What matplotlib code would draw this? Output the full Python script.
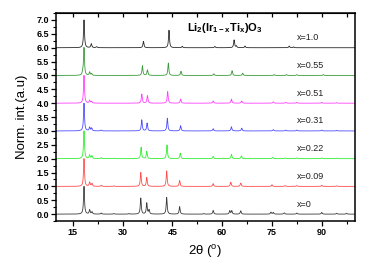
import numpy as np
import matplotlib.pyplot as plt
from matplotlib.ticker import MultipleLocator

plt.rcParams['font.family'] = ['Liberation Sans', 'DejaVu Sans']
plt.rcParams['mathtext.default'] = 'regular'

# sample labels, offsets and colours (bottom to top)
labels = ['x=0', 'x=0.09', 'x=0.22', 'x=0.31', 'x=0.51', 'x=0.55', 'x=1.0']
offsets = [0, 1, 2, 3, 4, 5, 6]
colors = ['#3a3a3a', '#ff4d4d', '#33ee33', '#4d4dff', '#ff40ff', '#3a9a3a', '#2a2a2a']

# peak positions (2theta) and heights
pos_x0 = [18.4, 20.1, 20.8, 23.6, 27.4, 32.0, 35.5, 37.3, 38.0, 43.3, 47.2, 54.5, 57.3, 62.3, 62.9, 65.6, 74.7, 75.4, 78.7, 82.5, 90.0, 94.5, 97.5]
h_x0 = [1.0, 0.15, 0.08, 0.04, 0.02, 0.02, 0.58, 0.4, 0.15, 0.6, 0.27, 0.02, 0.13, 0.12, 0.12, 0.12, 0.07, 0.06, 0.05, 0.04, 0.06, 0.03, 0.03]
pos_x009 = [18.4, 20.1, 20.8, 23.6, 27.4, 35.5, 37.3, 43.3, 47.2, 57.3, 62.6, 65.6, 75.0, 79.0, 82.5, 90.0, 94.5]
h_x009 = [1.0, 0.15, 0.1, 0.04, 0.02, 0.5, 0.32, 0.56, 0.21, 0.1, 0.15, 0.12, 0.06, 0.03, 0.03, 0.04, 0.02]
pos_x022 = [18.4, 20.1, 20.8, 23.6, 27.5, 35.6, 37.3, 43.4, 47.4, 57.3, 62.8, 65.8, 75.2, 79.0, 82.5, 90.0, 94.5]
h_x022 = [1.0, 0.13, 0.1, 0.04, 0.02, 0.41, 0.26, 0.49, 0.2, 0.08, 0.15, 0.1, 0.05, 0.03, 0.03, 0.03, 0.02]
pos_x031 = [18.4, 20.1, 20.7, 23.6, 35.8, 37.4, 43.5, 47.5, 57.3, 62.8, 65.9, 75.4, 79.2, 82.5, 90.0, 94.5]
h_x031 = [1.0, 0.13, 0.1, 0.03, 0.4, 0.28, 0.46, 0.19, 0.08, 0.15, 0.1, 0.05, 0.03, 0.03, 0.03, 0.02]
pos_x051 = [18.4, 20.1, 20.7, 35.8, 37.5, 43.6, 47.5, 57.3, 62.8, 65.9, 75.4, 79.2, 82.5, 90.0, 94.5]
h_x051 = [1.0, 0.1, 0.06, 0.33, 0.27, 0.42, 0.15, 0.08, 0.15, 0.08, 0.05, 0.03, 0.03, 0.03, 0.02]
pos_x055 = [18.0, 18.4, 20.1, 20.7, 36.0, 37.5, 43.8, 47.6, 57.5, 63.0, 66.2, 75.7, 79.4, 82.5, 90.5]
h_x055 = [0.08, 1.0, 0.12, 0.06, 0.35, 0.2, 0.45, 0.15, 0.06, 0.17, 0.08, 0.03, 0.03, 0.03, 0.03]
pos_x10 = [18.4, 20.6, 22.2, 36.3, 44.0, 48.0, 57.8, 63.6, 64.3, 66.9, 80.2, 81.5]
h_x10 = [1.0, 0.14, 0.04, 0.23, 0.63, 0.05, 0.05, 0.28, 0.06, 0.06, 0.06, 0.03]

peaks = [(pos_x0, h_x0), (pos_x009, h_x009), (pos_x022, h_x022), (pos_x031, h_x031),
         (pos_x051, h_x051), (pos_x055, h_x055), (pos_x10, h_x10)]

tt = np.arange(10, 100.01, 0.02)
w = 0.17


def profile(pos, h):
    y = np.zeros_like(tt)
    for p, a in zip(pos, h):
        y += a / (1 + ((tt - p) / w) ** 2)
    return y


fig = plt.figure(figsize=(3.74, 2.61), dpi=100)
ax = fig.add_axes([0.15, 0.153, 0.799, 0.797])

for (pos, h), off, c, lab in zip(peaks, offsets, colors, labels):
    ax.plot(tt, profile(pos, h) + off, color=c, lw=0.6)
    ax.text(82.5, off + 0.2, lab, fontsize=6.5, color='#222222', ha='left', va='bottom')

ax.text(49.3, 6.72, r'Li$_2$(Ir$_{1-x}$Ti$_x$)O$_3$', fontsize=8, fontweight='bold', ha='left', va='center')

ax.set_xlim(10, 100)
ax.set_ylim(-0.25, 7.25)
ax.xaxis.set_major_locator(MultipleLocator(15))
ax.xaxis.set_minor_locator(MultipleLocator(7.5))
ax.yaxis.set_major_locator(MultipleLocator(0.5))
ax.yaxis.set_minor_locator(MultipleLocator(0.25))
ax.set_xticks(np.arange(15, 91, 15))
ax.tick_params(which='major', direction='out', length=3.5, width=0.9, labelsize=6.5, pad=1.5)
ax.tick_params(which='minor', direction='out', length=2, width=0.8)
ax.tick_params(top=False, right=False)
for lbl in ax.get_xticklabels() + ax.get_yticklabels():
    lbl.set_fontweight('bold')

# inward ticks along the top
sec = ax.secondary_xaxis('top')
sec.set_xticks(np.arange(15, 100, 7.5))
sec.tick_params(direction='in', length=3, width=0.9, labelsize=0)
sec.set_xticklabels([])

for s in ax.spines.values():
    s.set_linewidth(1.1)

ax.set_xlabel('2θ ($^{o}$)', fontsize=9.5, labelpad=4)
ax.set_ylabel('Norm. int.(a.u)', fontsize=9.5, labelpad=6)

fig.savefig('out.png', dpi=100)
